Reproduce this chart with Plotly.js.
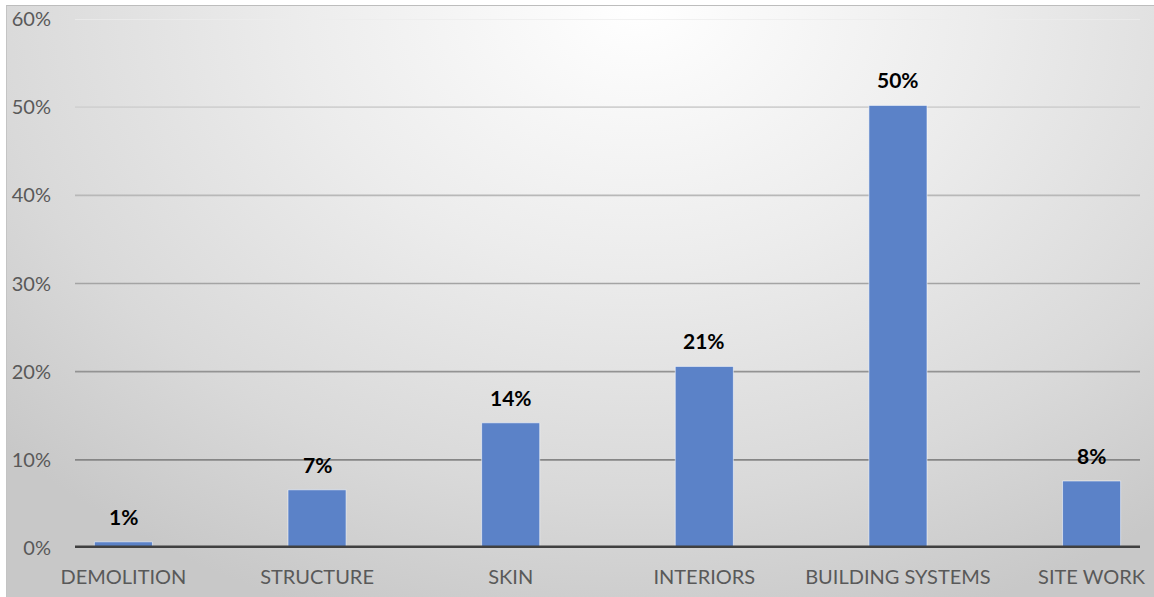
<!DOCTYPE html>
<html><head><meta charset="utf-8">
<script src="https://cdn.plot.ly/plotly-3.0.1.min.js"></script>
<style>
html,body{margin:0;padding:0;background:#fff;}
body{width:1154px;height:597px;overflow:hidden;position:relative;}
#bg{position:absolute;left:6px;top:5px;width:1148px;height:592px;box-sizing:border-box;
border-top:1.5px solid #bdbdbd;border-left:1.5px solid #c4c4c4;
background: radial-gradient(ellipse 75% 110% at 55% 0%, #ffffff 0%, #ececec 40%, #d9d9d9 75%, #c8c8c8 100%);}
#chart{position:absolute;left:0;top:0;width:1154px;height:597px;}
</style></head>
<body><div id="bg"></div><div id="chart"></div>
<script>
const categories = ["DEMOLITION","STRUCTURE","SKIN","INTERIORS","BUILDING SYSTEMS","SITE WORK"];
const values = [0.007, 0.066, 0.142, 0.206, 0.502, 0.076];
const yTickVals = [0,0.1,0.2,0.3,0.4,0.5,0.6];

const trace = {
  type:"bar", x:categories, y:values, width:0.3,
  marker:{color:"#5b82c8", line:{color:"rgba(255,255,255,0.55)", width:1}},
  hoverinfo:"none"
};
const annotations = categories.map((c,i)=>({
  x:c, y:values[i], xref:"x", yref:"y", text:"<b>"+Math.round(values[i]*100)+"%</b>",
  showarrow:false, yanchor:"bottom", yshift:11,
  font:{family:"Lato, sans-serif", size:21, color:"#000"}
}));
// gridline shading: lighter toward the top (style only)
function gridColor(v){ const g = Math.round(128 + (v/0.6)*(236-128)*Math.pow(v/0.6,0.6)); return "rgb("+g+","+g+","+g+")"; }
const gridShapes = yTickVals.filter(v=>v>0).map(v=>({
  type:"line", xref:"paper", yref:"y", x0:0, x1:1, y0:v, y1:v, layer:"below",
  line:{color:gridColor(v), width:1.6}
}));
const layout = {
  width:1154, height:597,
  margin:{l:75, r:14, t:19, b:49},
  paper_bgcolor:"rgba(0,0,0,0)", plot_bgcolor:"rgba(0,0,0,0)",
  showlegend:false,
  xaxis:{range:[-0.25,5.25], showgrid:false, zeroline:false, showline:false, ticks:"",
    ticklabelstandoff:15,
    tickfont:{family:"Lato, sans-serif", size:20, color:"#595959"}, ticklen:0},
  yaxis:{range:[0,0.6], tickvals:yTickVals, tickformat:".0%", showgrid:false,
    zeroline:false, showline:false, ticklabelstandoff:23,
    ticks:"", ticklen:0, tickfont:{family:"Lato, sans-serif", size:20, color:"#595959"}},
  shapes: gridShapes.concat([{type:"line", xref:"paper", yref:"y", x0:0, x1:1, y0:0, y1:0, line:{color:"#404040", width:5}}]),
  annotations:annotations
};
Plotly.newPlot("chart",[trace],layout,{displayModeBar:false, staticPlot:true});
</script></body></html>
